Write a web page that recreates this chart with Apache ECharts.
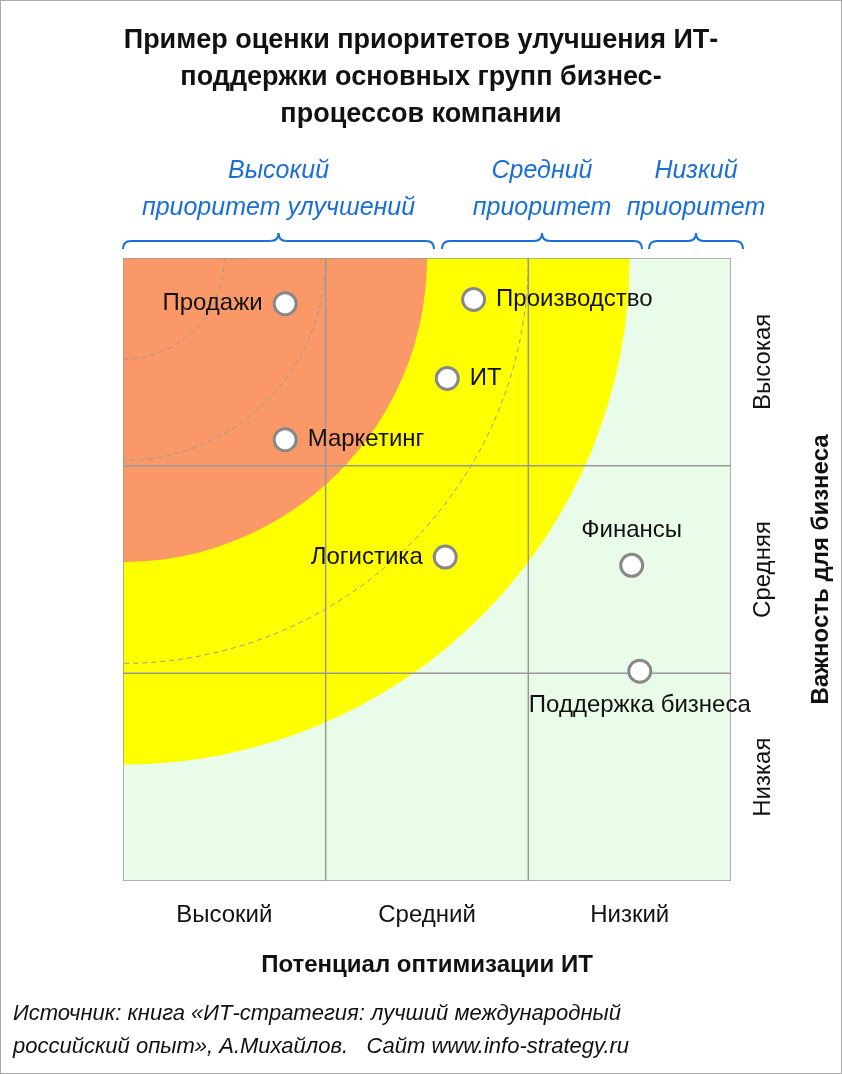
<!DOCTYPE html>
<html lang="en">
<head>
<meta charset="utf-8">
<style type="text/css">
  html, body { margin: 0; padding: 0; background: #fff; }
  #echarts { width: 840px; height: 1072px; border: 1px solid #aaa; }
</style>
</head>
<body>
<div id="echarts"></div>
<script src="https://cdn.jsdelivr.net/npm/echarts@6/dist/echarts.min.js"></script>
<script type="text/javascript">
var xCategories = ['Высокий', 'Средний', 'Низкий'];
var yCategories = ['Высокая', 'Средняя', 'Низкая'];
var zoneRadii = [2.5, 1.5];
var dashedRadii = [0.5, 1, 2];
var gridLines = [1, 2];
var processNames = ['Продажи', 'Производство', 'ИТ', 'Маркетинг', 'Логистика', 'Финансы', 'Поддержка бизнеса'];
var processX = [0.8, 1.73, 1.6, 0.8, 1.59, 2.51, 2.55];
var processY = [0.22, 0.2, 0.58, 0.875, 1.44, 1.48, 1.99];
var labelPos = ['left', 'right', 'right', 'right', 'left', 'top', 'bottom'];
var priorityTitles = ['Высокий\nприоритет улучшений', 'Средний\nприоритет', 'Низкий\nприоритет'];

var chart = echarts.init(document.getElementById('echarts'));
var zoneColors = ['#ffff00', '#fa9868'];
var font = 'Arial, "Liberation Sans", sans-serif';
var blue = '#1a6fd6';

// curly brace built from quadratic curves and lines
function brace(x1, x2, y) {
  var m = (x1 + x2) / 2, h = 8;
  var st = { stroke: blue, lineWidth: 2, fill: null };
  function q(ax, ay, cx, cy, bx, by) {
    return { type: 'bezierCurve', shape: { x1: ax, y1: ay, cpx1: cx, cpy1: cy, x2: bx, y2: by }, style: st };
  }
  function l(ax, ay, bx, by) {
    return { type: 'line', shape: { x1: ax, y1: ay, x2: bx, y2: by }, style: st };
  }
  return [
    q(x1, y + h, x1, y, x1 + h, y),
    l(x1 + h, y, m - h, y),
    q(m - h, y, m, y, m, y - h),
    q(m, y - h, m, y, m + h, y),
    l(m + h, y, x2 - h, y),
    q(x2 - h, y, x2, y, x2, y + h)
  ];
}
var braceX = [[122, 433], [441, 641], [648, 742]];
var graphics = [];
braceX.forEach(function (b, i) {
  graphics = graphics.concat(brace(b[0], b[1], 240));
  graphics.push({ type: 'text', x: (b[0] + b[1]) / 2, y: 152,
    style: { text: priorityTitles[i], fill: blue, font: 'italic 25px ' + font,
      textAlign: 'center', lineHeight: 37 } });
});
graphics.push({ type: 'text', left: 12, top: 996,
  style: { text: 'Источник: книга «ИТ-стратегия: лучший международный\nроссийский опыт», А.Михайлов.   Сайт www.info-strategy.ru',
    fill: '#111', font: 'italic 22px ' + font, lineHeight: 33 } });

var option = {
  animation: false,
  title: {
    text: 'Пример оценки приоритетов улучшения ИТ-\nподдержки основных групп бизнес-\nпроцессов компании',
    left: 'center', top: 16,
    textStyle: { fontSize: 27, fontWeight: 'bold', color: '#111', lineHeight: 37, fontFamily: font }
  },
  graphic: graphics,
  grid: { left: 122, top: 257, width: 624, height: 623, show: true, backgroundColor: '#e9fbe9', borderWidth: 0 },
  xAxis: [
    { type: 'value', min: 0, max: 3, show: false },
    { type: 'category', data: xCategories, position: 'bottom',
      axisLine: { show: false }, axisTick: { show: false },
      axisLabel: { fontSize: 24, color: '#111', margin: 22, fontFamily: font },
      name: 'Потенциал оптимизации ИТ', nameLocation: 'middle', nameGap: 72,
      nameTextStyle: { fontSize: 24, fontWeight: 'bold', color: '#111', fontFamily: font } }
  ],
  yAxis: [
    { type: 'value', min: 0, max: 3, inverse: true, show: false },
    { type: 'category', data: yCategories, inverse: true,
      axisLine: { show: false }, axisTick: { show: false },
      axisLabel: { fontSize: 24, color: '#111', rotate: 90, margin: 20, fontFamily: font },
      name: 'Важность для бизнеса', nameLocation: 'middle', nameGap: 78,
      nameTextStyle: { fontSize: 24, fontWeight: 'bold', color: '#111', fontFamily: font } }
  ],
  series: [
    { type: 'custom', coordinateSystem: 'cartesian2d', xAxisIndex: 0, yAxisIndex: 0, data: [[0, 0]], silent: true, clip: true,
      renderItem: function (params, api) {
        var o = api.coord([0, 0]);
        var children = [];
        zoneRadii.forEach(function (r, i) {
          children.push({ type: 'sector', shape: { cx: o[0], cy: o[1], r: api.size([r, 0])[0], r0: 0, startAngle: 0, endAngle: Math.PI / 2 },
            style: { fill: zoneColors[i] } });
        });
        dashedRadii.forEach(function (r) {
          children.push({ type: 'arc', shape: { cx: o[0], cy: o[1], r: api.size([r, 0])[0], startAngle: 0, endAngle: Math.PI / 2 },
            style: { fill: null, stroke: '#999', lineWidth: 1, lineDash: [5, 4] } });
        });
        gridLines.forEach(function (v) {
          var a = api.coord([v, 0]), b = api.coord([v, 3]);
          children.push({ type: 'line', shape: { x1: a[0], y1: a[1], x2: b[0], y2: b[1] }, style: { stroke: '#999', lineWidth: 1.5 } });
          a = api.coord([0, v]); b = api.coord([3, v]);
          children.push({ type: 'line', shape: { x1: a[0], y1: a[1], x2: b[0], y2: b[1] }, style: { stroke: '#999', lineWidth: 1.5 } });
        });
        var p = api.coord([3, 3]);
        children.push({ type: 'rect', shape: { x: o[0], y: o[1], width: p[0] - o[0], height: p[1] - o[1] },
          style: { fill: null, stroke: '#999', lineWidth: 1.5 } });
        return { type: 'group', children: children };
      } },
    { type: 'scatter', xAxisIndex: 0, yAxisIndex: 0, symbolSize: 22,
      itemStyle: { color: '#fff', borderColor: '#888', borderWidth: 3, opacity: 1 },
      data: processNames.map(function (n, i) {
        return { name: n, value: [processX[i], processY[i]],
          label: { show: true, formatter: '{b}', position: labelPos[i], distance: 10,
            fontSize: 24, color: '#111', fontFamily: font } };
      }) }
  ]
};
chart.setOption(option);
</script>
</body>
</html>
